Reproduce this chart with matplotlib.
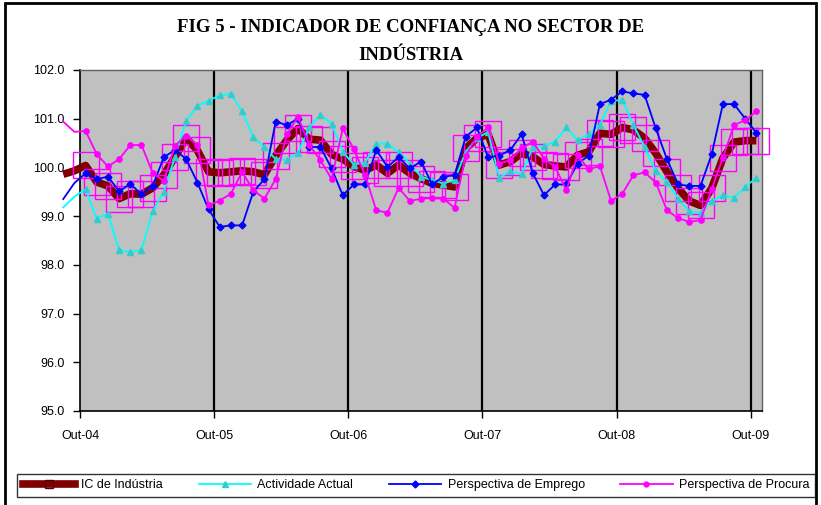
import matplotlib
matplotlib.use("Agg")
import matplotlib.pyplot as plt
from matplotlib.lines import Line2D
from matplotlib.patches import Rectangle
import numpy as np

# valores mensais, de Ago-04 a Out-09 (os dois primeiros ficam antes do eixo)
ic_industria = [99.86, 99.93, 100.04, 99.70, 99.62, 99.36, 99.46, 99.45, 99.58, 99.85,
                100.22, 100.60, 100.35, 99.91, 99.89, 99.91, 99.93, 99.91, 99.85, 100.24,
                100.56, 100.80, 100.58, 100.56, 100.27, 100.17, 100.02, 99.94, 100.05, 99.88,
                100.05, 99.88, 99.77, 99.67, 99.64, 99.60, 100.39, 100.60, 100.68, 100.05,
                100.12, 100.29, 100.22, 100.06, 100.03, 100.01, 100.25, 100.32, 100.70, 100.68,
                100.82, 100.77, 100.60, 100.29, 99.91, 99.57, 99.31, 99.22, 99.57, 100.19,
                100.52, 100.55, 100.55]
actividade_actual = [99.18, 99.40, 99.55, 98.95, 99.05, 98.31, 98.26, 98.31, 99.10, 99.50,
                     100.22, 100.96, 101.26, 101.37, 101.48, 101.51, 101.15, 100.63, 100.41, 100.17,
                     100.15, 100.30, 100.82, 101.08, 100.90, 100.32, 100.06, 100.10, 100.49, 100.49,
                     100.31, 100.08, 99.81, 99.74, 99.67, 99.74, 100.32, 100.60, 100.73, 99.79,
                     99.92, 99.86, 100.42, 100.44, 100.53, 100.82, 100.56, 100.68, 100.88, 101.36,
                     101.39, 100.87, 100.42, 99.92, 99.70, 99.36, 99.10, 99.07, 99.31, 99.43,
                     99.38, 99.60, 99.79]
persp_emprego = [99.35, 99.68, 99.88, 99.76, 99.81, 99.51, 99.66, 99.45, 99.62, 100.21,
                 100.36, 100.17, 99.69, 99.14, 98.78, 98.81, 98.81, 99.50, 99.76, 100.94,
                 100.87, 101.00, 100.42, 100.42, 99.98, 99.43, 99.65, 99.65, 100.36, 100.01,
                 100.21, 99.98, 100.12, 99.65, 99.81, 99.84, 100.63, 100.82, 100.21, 100.24,
                 100.36, 100.68, 99.88, 99.43, 99.65, 99.65, 100.08, 100.24, 101.30, 101.39,
                 101.56, 101.52, 101.49, 100.80, 100.17, 99.65, 99.62, 99.62, 100.27, 101.30,
                 101.30, 101.00, 100.71]
persp_procura = [100.94, 100.73, 100.75, 100.27, 100.02, 100.17, 100.46, 100.46, 99.89, 99.72,
                 100.45, 100.65, 100.46, 99.22, 99.32, 99.46, 99.91, 99.53, 99.36, 99.76,
                 100.68, 101.04, 100.46, 100.15, 99.76, 100.80, 100.37, 99.84, 99.12, 99.07,
                 99.58, 99.31, 99.36, 99.37, 99.36, 99.17, 100.24, 100.63, 100.82, 100.08,
                 100.15, 100.39, 100.53, 100.18, 100.01, 99.53, 100.25, 99.96, 100.03, 99.31,
                 99.46, 99.84, 99.90, 99.69, 99.12, 98.96, 98.88, 98.92, 99.55, 100.20,
                 100.87, 100.97, 101.15]

anos = ["Out-04", "Out-05", "Out-06", "Out-07", "Out-08", "Out-09"]
nomes = ["IC de Indústria", "Actividade Actual", "Perspectiva de Emprego",
         "Perspectiva de Procura"]

fonte = ["Liberation Sans", "DejaVu Sans"]
serifa = ["Liberation Serif", "DejaVu Serif"]

# cada mês fica no meio da sua categoria; Out-04 é o mês 0
x = np.arange(len(ic_industria)) - 2 + 0.5

fig = plt.figure(figsize=(8.21, 5.05), dpi=100)
ax = fig.add_axes([80 / 821, 94 / 505, 682 / 821, 341 / 505])
ax.set_facecolor("#c0c0c0")

so_eixo = slice(2, None)

ax.plot(x, ic_industria, color="#800000", lw=5.5, solid_capstyle="butt",
        marker="s", markersize=19, markerfacecolor="none",
        markeredgecolor="#ff00ff", markeredgewidth=1.0,
        markevery=so_eixo, clip_on=False, zorder=3)
ax.plot(x, actividade_actual, color="#00ffff", lw=1.3, marker="^", markersize=4.5,
        markerfacecolor="#33cccc", markeredgecolor="#33cccc",
        markevery=so_eixo, clip_on=False, zorder=4)
ax.plot(x, persp_emprego, color="#0000ff", lw=1.3, marker="D", markersize=3.5,
        markevery=so_eixo, clip_on=False, zorder=5)
ax.plot(x, persp_procura, color="#ff00ff", lw=1.3, marker="o", markersize=3.8,
        markevery=so_eixo, clip_on=False, zorder=6)

ax.set_xlim(0, 61)
ax.set_ylim(95, 102)

for i in range(1, len(anos)):
    ax.axvline(12 * i, color="black", lw=1.6, zorder=2)

ax.set_xticks([12 * i for i in range(len(anos))])
ax.set_xticklabels(anos, family=fonte, fontsize=9)
ax.set_yticks(np.arange(95, 102.5, 1))
ax.set_yticklabels(["%.1f" % v for v in np.arange(95, 102.5, 1)], family=fonte, fontsize=9)
ax.tick_params(axis="x", direction="out", length=5, width=1, pad=9)
ax.tick_params(axis="y", direction="out", length=5, width=1, pad=6)

for lado in ["left", "bottom"]:
    ax.spines[lado].set_linewidth(1.2)
    ax.spines[lado].set_color("black")
for lado in ["top", "right"]:
    ax.spines[lado].set_linewidth(1)
    ax.spines[lado].set_color("#606060")

fig.text(0.5, 1 - 28 / 505, "FIG 5 - INDICADOR DE CONFIANÇA NO SECTOR DE",
         ha="center", va="center", family=serifa, fontweight="bold", fontsize=13.5)
fig.text(0.5, 1 - 55 / 505, "INDÚSTRIA",
         ha="center", va="center", family=serifa, fontweight="bold", fontsize=13.5)

pegas = [
    Line2D([], [], color="#800000", lw=5.5, marker="s", markersize=6,
           markerfacecolor="none", markeredgecolor="#5a0000", markeredgewidth=1),
    Line2D([], [], color="#00ffff", lw=1.3, marker="^", markersize=4,
           markerfacecolor="#33cccc", markeredgecolor="#33cccc"),
    Line2D([], [], color="#0000ff", lw=1.3, marker="D", markersize=3.5),
    Line2D([], [], color="#ff00ff", lw=1.3, marker="o", markersize=3.5),
]
leg = fig.legend(pegas, nomes, ncol=4, loc="lower left", mode="expand",
                 bbox_to_anchor=(17 / 821, 8 / 505, 798 / 821, 26 / 505),
                 frameon=True, fancybox=False, edgecolor="black",
                 handlelength=4.2, handletextpad=0.5, borderpad=0.45,
                 borderaxespad=0.0,
                 prop={"family": fonte, "size": 9})
leg.get_frame().set_linewidth(1)

fig.patches.append(Rectangle((5 / 821, -0.02), 811 / 821, 1 - 3 / 505 + 0.02,
                             transform=fig.transFigure, fill=False,
                             edgecolor="black", lw=2))

plt.savefig("out.png", dpi=100)
